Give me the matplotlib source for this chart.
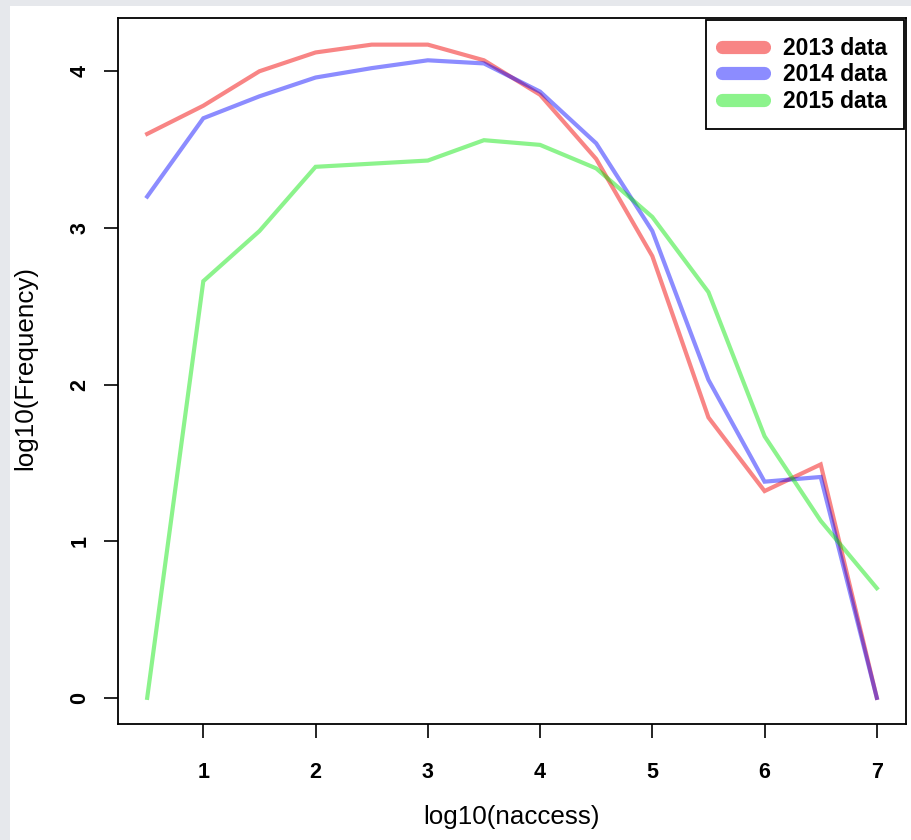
import matplotlib
matplotlib.use("Agg")
import matplotlib.pyplot as plt
from matplotlib.patches import Rectangle

plt.rcParams['font.family'] = ['Liberation Sans', 'DejaVu Sans']

# log10(naccess) bins
xvals = [0.5, 1, 1.5, 2, 2.5, 3, 3.5, 4, 4.5, 5, 5.5, 6, 6.5, 7]

freq_2013 = [3.60, 3.78, 4.00, 4.12, 4.17, 4.17, 4.07, 3.85, 3.44, 2.82, 1.79, 1.32, 1.49, 0.0]
freq_2014 = [3.20, 3.70, 3.84, 3.96, 4.02, 4.07, 4.05, 3.87, 3.54, 2.98, 2.03, 1.38, 1.41, 0.0]
freq_2015 = [0.0, 2.66, 2.98, 3.39, 3.41, 3.43, 3.56, 3.53, 3.38, 3.07, 2.59, 1.67, 1.13, 0.70]

labels = ["2013 data", "2014 data", "2015 data"]
colors = [(0.95, 0, 0, 0.48), (0, 0, 1, 0.45), (0, 0.9, 0, 0.45)]

fig = plt.figure(figsize=(9.11, 8.4), dpi=100)
fig.patch.set_facecolor('#e6e8ec')
# white page inside the screenshot frame (drawn behind the axes)
page = Rectangle((10 / 911, 0), 1, 1 - 6 / 840, transform=fig.transFigure,
                 facecolor='white', edgecolor='none', zorder=-5)
fig.add_artist(page)

ax = fig.add_axes([118 / 911, 1 - 724 / 840, 788 / 911, 706 / 840])
ax.set_zorder(1)

for ys, lab, c in zip([freq_2013, freq_2014, freq_2015], labels, colors):
    ax.plot(xvals, ys, color=c, lw=3.0, label=lab, solid_joinstyle='miter')

ax.set_xlim(0.24, 7.26)
ax.set_ylim(-0.167, 4.34)
ax.set_xticks([1, 2, 3, 4, 5, 6, 7])
ax.set_yticks([0, 1, 2, 3, 4])

ax.tick_params(direction='out', length=10, width=1.2, labelsize=15.5)
ax.tick_params(axis='x', pad=17)
ax.tick_params(axis='y', pad=10)
for t in ax.get_xticklabels():
    t.set_fontweight('bold')
for t in ax.get_yticklabels():
    t.set_fontweight('bold')
    t.set_rotation(90)
    t.set_va('center')

for s in ax.spines.values():
    s.set_linewidth(1.3)

ax.set_xlabel("log10(naccess)", fontsize=18.7, va='top')
ax.set_ylabel("log10(Frequency)", fontsize=18.7)
ax.xaxis.set_label_coords(0.499, -0.115)
ax.yaxis.set_label_coords(-0.103, 0.504)

leg = ax.legend(loc='upper right', bbox_to_anchor=(0.997, 0.997),
                borderaxespad=0, fancybox=False, framealpha=1,
                edgecolor='black', prop={'weight': 'bold', 'size': 16.5},
                handlelength=1.8, handletextpad=0.85, labelspacing=0.16,
                borderpad=0.72)
leg.get_frame().set_linewidth(1.3)
for h in leg.get_lines():
    h.set_linewidth(9.5)
    h.set_solid_capstyle('round')

fig.savefig("out.png", dpi=100, facecolor=fig.get_facecolor())
